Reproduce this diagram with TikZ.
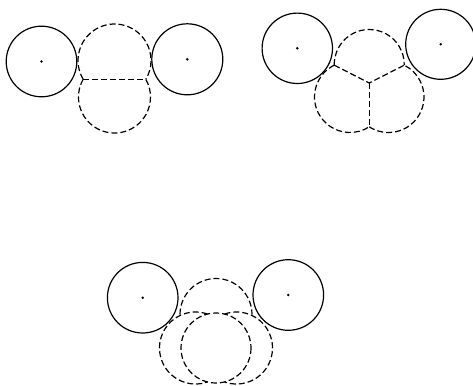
\documentclass[tikz,border=0pt]{standalone}
\begin{document}
\begin{tikzpicture}[x=1pt,y=-1pt,
  solidc/.style={line width=1.2pt},
  dashc/.style={line width=1.2pt,dash pattern=on 6pt off 3pt},
  centerdot/.style={fill=black}]
\useasboundingbox (0,0) rectangle (473,385);
% ---------- panel 1 ----------
\coordinate (A) at (41.5,61.5);
\coordinate (B) at (187.3,59.3);
\coordinate (J1l) at (83.2,79.25);
\coordinate (J1r) at (145.8,79.25);
\draw[solidc] (A) circle[radius=35.3];
\draw[solidc] (B) circle[radius=35.5];
\fill[centerdot] (A) circle[radius=1.4];
\fill[centerdot] (B) circle[radius=1.4];
\draw[dashc] (J1l) arc[start angle=-210.9,end angle=30.9,radius=36.5];
\draw[dashc] (J1l) arc[start angle=-150.4,end angle=-389.6,radius=36];
\draw[dashc] (J1l) -- (J1r);
% ---------- panel 2 ----------
\coordinate (C) at (297.3,48.3);
\coordinate (D) at (440.7,44.3);
\coordinate (UL) at (334.25,65.18);
\coordinate (UR) at (404.25,65.18);
\coordinate (CJ) at (369.25,83);
\coordinate (BJ) at (369.25,126.83);
\draw[solidc] (C) circle[radius=35.2];
\draw[solidc] (D) circle[radius=35];
\fill[centerdot] (C) circle[radius=1.4];
\fill[centerdot] (D) circle[radius=1.4];
\draw[dashc] (UL) arc[start angle=-181.1,end angle=1.1,radius=35];
\draw[dashc] (UL) arc[start angle=-116.34,end angle=-302.83,radius=35.5];
\draw[dashc] (BJ) arc[start angle=-237.17,end angle=-423.66,radius=35.5];
\draw[dashc] (UL) -- (CJ) -- (UR);
\draw[dashc] (CJ) -- (BJ);
% ---------- panel 3 ----------
\coordinate (E) at (142.7,297.7);
\coordinate (F) at (288.3,295);
\coordinate (U3l) at (180,314.5);
\coordinate (I3) at (216,348);
\coordinate (T3l) at (207.48,314.05);
\coordinate (T3r) at (224.52,314.05);
\draw[solidc] (E) circle[radius=35.3];
\draw[solidc] (F) circle[radius=35.3];
\fill[centerdot] (E) circle[radius=1.4];
\fill[centerdot] (F) circle[radius=1.4];
\draw[dashc] (U3l) arc[start angle=-180,end angle=0,radius=36];
\draw[dashc] (I3) circle[radius=35];
\draw[dashc] (T3l) arc[start angle=-70.56,end angle=-289.44,radius=36];
\draw[dashc] (T3r) arc[start angle=-109.44,end angle=109.44,radius=36];
\end{tikzpicture}
\end{document}
